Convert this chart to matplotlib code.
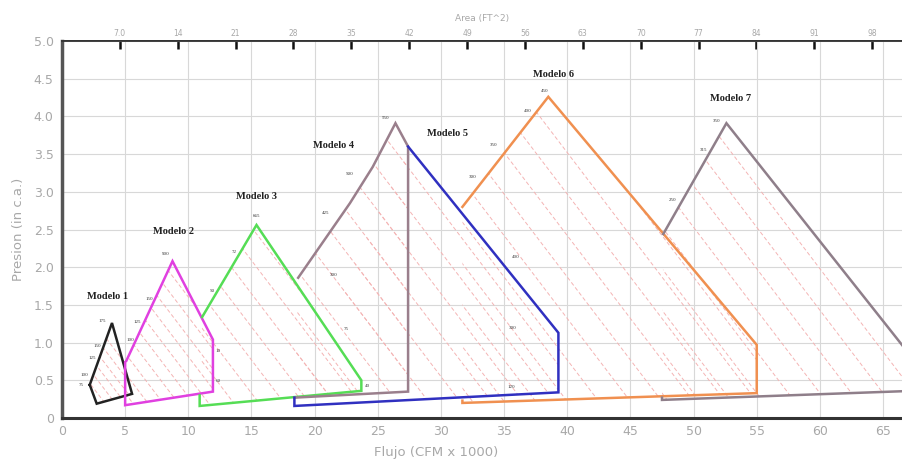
import matplotlib.pyplot as plt
from matplotlib.patches import Polygon

# outline of each model (flow in CFM x 1000, pressure in in c.a.)
m1_x = [2.2, 3.96, 5.55, 2.75, 2.2]
m1_y = [0.44, 1.26, 0.32, 0.19, 0.44]
m2_x = [5.1, 8.75, 11.95, 11.95, 5.0, 5.0]
m2_y = [0.76, 2.08, 1.04, 0.35, 0.17, 0.74]
m3_x = [10.9, 10.9, 23.7, 23.7, 15.4, 11.1]
m3_y = [0.30, 0.16, 0.36, 0.50, 2.56, 1.34]
m4_x = [18.4, 27.4, 27.4, 26.4, 24.6, 22.8, 18.7]
m4_y = [0.27, 0.35, 3.60, 3.91, 3.33, 2.85, 1.86]
m5_x = [18.4, 18.4, 39.3, 39.3, 27.4]
m5_y = [0.27, 0.16, 0.34, 1.13, 3.60]
m6_x = [31.7, 31.7, 55.0, 55.0, 38.5, 31.7]
m6_y = [0.23, 0.20, 0.33, 0.97, 4.26, 2.80]
m7_x = [47.5, 47.5, 69.0, 69.0, 52.6, 47.6]
m7_y = [0.27, 0.24, 0.37, 0.44, 3.91, 2.44]

model_x = [m1_x, m2_x, m3_x, m4_x, m5_x, m6_x, m7_x]
model_y = [m1_y, m2_y, m3_y, m4_y, m5_y, m6_y, m7_y]
model_colors = ['#222222', '#e040e0', '#55dd55', '#9a7f8c', '#3030c0', '#f09050', '#8f7f8a']

model_names = ['Modelo 1', 'Modelo 2', 'Modelo 3', 'Modelo 4', 'Modelo 5', 'Modelo 6', 'Modelo 7']
name_x = [3.6, 8.8, 15.4, 21.5, 30.5, 38.9, 52.9]
name_y = [1.61, 2.47, 2.94, 3.62, 3.77, 4.55, 4.24]

# fan curves: flow where each dashed line reaches zero pressure
curve_x0 = [
    [3.5, 4.3, 5.1, 5.9, 6.7, 7.5, 8.3],
    [6.5, 7.7, 8.9, 10.1, 11.3, 12.5, 13.7, 14.9, 16.1, 17.3],
    [12.5, 14.5, 16.5, 18.5, 20.5, 22.5, 24.5, 26.5],
    [20.0, 22.5, 25.0, 27.5, 30.0, 32.5, 35.0, 37.5, 40.0, 42.5],
    [30.0, 32.5, 35.0, 37.5, 40.0, 42.5, 45.0],
    [33.5, 36.0, 38.5, 41.0, 43.5, 46.0, 48.5, 51.0, 53.5, 56.0, 58.5],
    [49.0, 51.5, 54.0, 56.5, 59.0, 61.5, 64.0, 66.5, 69.0, 71.5],
]
curve_slope = 0.22

# rpm labels along the outlines
rpm_text = ['175', '150', '125', '100', '75',
            '900', '150', '125', '100', '10', '60',
            '665', '72', '50', '75', '40',
            '550', '500', '425', '300',
            '400', '300', '120',
            '450', '400', '350', '300',
            '350', '315', '250']
rpm_x = [3.2, 2.8, 2.4, 1.8, 1.5,
         8.2, 6.9, 6.0, 5.4, 12.4, 12.4,
         15.4, 13.6, 11.9, 22.5, 24.2,
         25.6, 22.8, 20.9, 21.5,
         35.9, 35.7, 35.6,
         38.2, 36.9, 34.2, 32.5,
         51.8, 50.8, 48.3]
rpm_y = [1.29, 0.96, 0.80, 0.57, 0.44,
         2.17, 1.58, 1.27, 1.03, 0.89, 0.49,
         2.68, 2.20, 1.68, 1.18, 0.42,
         3.98, 3.24, 2.72, 1.90,
         2.14, 1.19, 0.41,
         4.34, 4.07, 3.62, 3.20,
         3.94, 3.55, 2.89]

area_ticks = [7, 14, 21, 28, 35, 42, 49, 56, 63, 70, 77, 84, 91, 98]
area_labels = ['7.0', '14', '21', '28', '35', '42', '49', '56', '63', '70', '77', '84', '91', '98']
flow_per_area = 0.6545

gray = '#a8a8a8'
fig = plt.figure(figsize=(9.02, 4.66), dpi=100)
ax = fig.add_axes([0.0687, 0.103, 0.9313, 0.809])
ax.set_xlim(0, 66.5)
ax.set_ylim(0, 5)

ax.set_xticks(range(0, 66, 5))
ax.set_yticks([0, 0.5, 1.0, 1.5, 2.0, 2.5, 3.0, 3.5, 4.0, 4.5, 5.0])
ax.set_yticklabels(['0', '0.5', '1.0', '1.5', '2.0', '2.5', '3.0', '3.5', '4.0', '4.5', '5.0'])
ax.tick_params(axis='both', length=0, labelsize=9, labelcolor=gray)
ax.tick_params(axis='x', pad=5)
ax.tick_params(axis='y', pad=6)
ax.grid(True, color='#d8d8d8', linewidth=0.8)
ax.set_axisbelow(True)

ax.spines['right'].set_visible(False)
ax.spines['left'].set_linewidth(2.5)
ax.spines['left'].set_color('#555555')
ax.spines['bottom'].set_linewidth(2.2)
ax.spines['bottom'].set_color('#333333')
ax.spines['top'].set_linewidth(1.3)
ax.spines['top'].set_color('#333333')

# dashed fan curves, clipped to each model's region
for xs, ys, x0s in zip(model_x, model_y, curve_x0):
    poly = Polygon(list(zip(xs, ys)), closed=True, facecolor='none', edgecolor='none')
    ax.add_patch(poly)
    for x0 in x0s:
        ln, = ax.plot([x0 - 5.0 / curve_slope, x0], [5.0, 0.0], color='#f4b4b4',
                      linewidth=0.7, linestyle=(0, (4, 2.5)), zorder=2)
        ln.set_clip_path(poly)

for xs, ys, c in zip(model_x, model_y, model_colors):
    ax.plot(xs, ys, color=c, linewidth=1.8, zorder=3, solid_joinstyle='miter')

for name, x, y in zip(model_names, name_x, name_y):
    ax.text(x, y, name, fontsize=7.5, family='Liberation Serif', fontweight='bold',
            color='#222222', ha='center', va='center')

for t, x, y in zip(rpm_text, rpm_x, rpm_y):
    ax.text(x, y, t, fontsize=3.6, family='Liberation Serif', color='#333333',
            ha='center', va='center')

ax.set_xlabel('Flujo (CFM x 1000)', fontsize=9.5, color=gray)
ax.xaxis.set_label_coords(0.445, -0.075)
ax.set_ylabel('Presion (in c.a.)', fontsize=9.5, color=gray, labelpad=6)

sec = ax.secondary_xaxis('top', functions=(lambda f: f / flow_per_area, lambda a: a * flow_per_area))
sec.set_xticks(area_ticks)
sec.set_xticklabels(area_labels)
sec.tick_params(direction='in', length=6, width=1.8, color='#111111', labelsize=5.5,
                labelcolor=gray, pad=2)
sec.spines['top'].set_linewidth(1.3)
sec.spines['top'].set_color('#333333')
sec.set_xlabel('Area (FT^2)', fontsize=6.5, color=gray, labelpad=6)

fig.savefig('out.png', dpi=100)
